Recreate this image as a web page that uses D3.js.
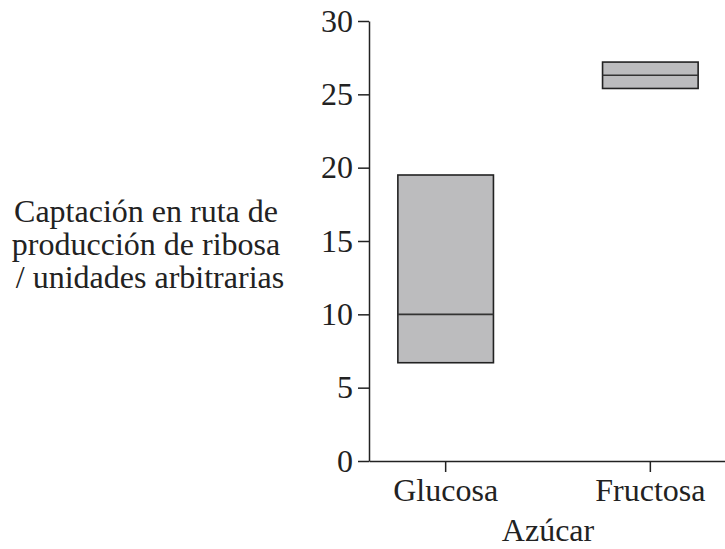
<!DOCTYPE html>
<html>
<head>
<meta charset="utf-8">
<script src="https://cdn.jsdelivr.net/npm/d3@7"></script>
<style>
  html, body { margin: 0; padding: 0; background: #fff; }
  svg text { font-family: "Liberation Serif", "Times New Roman", serif; fill: #222; }
</style>
</head>
<body>
<svg id="chart" width="725" height="549"></svg>
<script>
const categories = ["Glucosa", "Fructosa"];
const q1Values = [6.7, 25.4];
const medianValues = [10.0, 26.3];
const q3Values = [19.5, 27.2];
const yTicks = [0, 5, 10, 15, 20, 25, 30];
const yLabelLines = ["Captación en ruta de", "producción de ribosa", " / unidades arbitrarias"];
const xLabel = "Azúcar";

const data = categories.map((c, i) => ({ cat: c, q1: q1Values[i], med: medianValues[i], q3: q3Values[i] }));

const svg = d3.select("#chart");
const x0 = 369, x1 = 727, yTop = 21, yBot = 461;

const x = d3.scaleBand().domain(categories).range([x0, x1]).paddingInner(0.533).paddingOuter(0.141);
const y = d3.scaleLinear().domain([0, 30]).range([yBot, yTop]);

const fontSize = 32;

// Y axis
const yAxis = svg.append("g").attr("transform", `translate(${x0},0)`)
  .call(d3.axisLeft(y).tickValues(yTicks).tickSize(11).tickPadding(5).tickSizeOuter(0));
yAxis.attr("font-family", null).attr("font-size", null);
yAxis.select(".domain").attr("stroke", "#222").attr("stroke-width", 1.5);
yAxis.selectAll(".tick line").attr("stroke", "#222").attr("stroke-width", 1.5);
yAxis.selectAll(".tick text").style("font-size", fontSize + "px").attr("fill", "#222");

// X axis
const xAxis = svg.append("g").attr("transform", `translate(0,${yBot})`)
  .call(d3.axisBottom(x).tickSize(11).tickPadding(6).tickSizeOuter(0));
xAxis.attr("font-family", null).attr("font-size", null);
xAxis.select(".domain").attr("stroke", "#222").attr("stroke-width", 1.5);
xAxis.selectAll(".tick line").attr("stroke", "#222").attr("stroke-width", 1.5);
xAxis.selectAll(".tick text").style("font-size", fontSize + "px").attr("fill", "#222");

// Boxes
const g = svg.append("g");
g.selectAll("rect.box").data(data).enter().append("rect")
  .attr("class", "box")
  .attr("x", d => x(d.cat))
  .attr("width", x.bandwidth())
  .attr("y", d => y(d.q3))
  .attr("height", d => y(d.q1) - y(d.q3))
  .attr("fill", "#bcbcbe")
  .attr("stroke", "#222")
  .attr("stroke-width", 1.6);

g.selectAll("line.median").data(data).enter().append("line")
  .attr("class", "median")
  .attr("x1", d => x(d.cat))
  .attr("x2", d => x(d.cat) + x.bandwidth())
  .attr("y1", d => y(d.med))
  .attr("y2", d => y(d.med))
  .attr("stroke", "#333")
  .attr("stroke-width", 1.6);

// Y label
const yl = svg.append("text").attr("text-anchor", "middle").style("font-size", fontSize + "px");
yLabelLines.forEach((t, i) => {
  yl.append("tspan").attr("x", 146).attr("y", 222 + i * 33).text(t);
});

// X label
svg.append("text").attr("x", (x0 + x1) / 2).attr("y", 541)
  .attr("text-anchor", "middle").style("font-size", fontSize + "px").text(xLabel);
</script>
</body>
</html>
